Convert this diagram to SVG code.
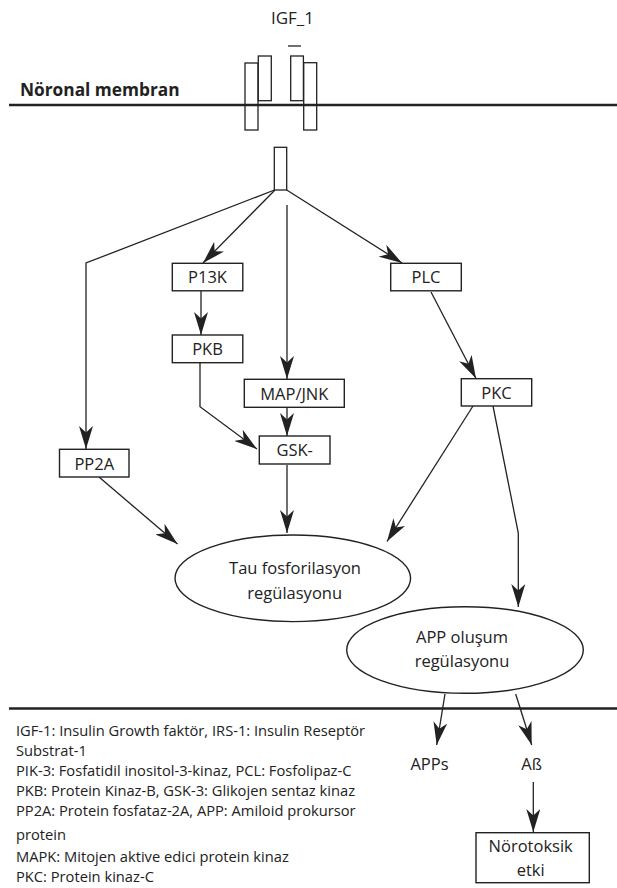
<svg xmlns="http://www.w3.org/2000/svg" width="617" height="888" viewBox="0 0 617 888">
<style>
text{font-family:"Open Sans","Noto Sans","DejaVu Sans",sans-serif;fill:#222}
.lbl{font-size:16.5px;text-anchor:middle}
.leg{font-size:14.7px}
.box{fill:#fff;stroke:#222;stroke-width:1.4}
.rec{fill:#fff;stroke:#222;stroke-width:1.3}
.mem{stroke:#222;stroke-width:2.6}
.con{fill:none;stroke:#222;stroke-width:1.3}
.arr{marker-end:url(#ah)}
</style>
<defs>
<marker id="ah" markerUnits="userSpaceOnUse" markerWidth="23" markerHeight="14" refX="23" refY="7" orient="auto" viewBox="0 0 23 14">
<path d="M0,0 L23,7 L0,14 L6.5,7 z" fill="#222"/>
</marker>
</defs>
<line class="mem" x1="9" y1="105" x2="617" y2="105"/>
<line class="mem" x1="9" y1="708.5" x2="617" y2="708.5"/>
<text x="20" y="96" style="font-size:17.3px;font-weight:bold">Nöronal membran</text>
<g id="igf1">
<text class="lbl" x="292.5" y="24" style="font-size:17px">IGF_1</text>
<line x1="288" y1="46" x2="301" y2="46" stroke="#222" stroke-width="1.3"/>
</g>
<g id="receptor">
<rect class="rec" x="245" y="63" width="13" height="67" fill-opacity="0"/>
<rect class="rec" x="258.3" y="56" width="13" height="44.7"/>
<rect class="rec" x="290.7" y="56" width="12.7" height="44.7"/>
<rect class="rec" x="303.7" y="62.7" width="13" height="67.3" fill-opacity="0"/>
<rect class="rec" x="274.3" y="147.3" width="12.4" height="42.7"/>
</g>
<g id="connectors">
<polyline class="con arr" points="274.5,190 86,263 86,449"/>
<line class="con arr" x1="275" y1="190" x2="203" y2="263"/>
<line class="con arr" x1="287" y1="205" x2="287" y2="379"/>
<line class="con arr" x1="286.7" y1="190" x2="402" y2="263"/>
<line class="con arr" x1="201" y1="291" x2="201" y2="335"/>
<polyline class="con arr" points="200,363 200,406.7 257,449"/>
<line class="con arr" x1="287" y1="407.5" x2="287" y2="436"/>
<line class="con arr" x1="431" y1="292" x2="476" y2="378.5"/>
<line class="con arr" x1="473" y1="406" x2="387" y2="541.5"/>
<polyline class="con arr" points="493,406 518.3,533 518.3,607"/>
<line class="con arr" x1="287" y1="465" x2="287" y2="533"/>
<line class="con arr" x1="99" y1="477" x2="177.5" y2="544"/>
<line class="con arr" x1="445" y1="694" x2="436.7" y2="745"/>
<line class="con arr" x1="515.7" y1="694" x2="531.7" y2="745"/>
<line class="con arr" x1="533.3" y1="782" x2="533.3" y2="832"/>
</g>
<g id="p13k"><rect class="box" x="172.3" y="263.3" width="70.5" height="27.5"/><text class="lbl" x="207.5" y="283">P13K</text></g>
<g id="pkb"><rect class="box" x="172.3" y="335" width="70.5" height="27.7"/><text class="lbl" x="207.5" y="355">PKB</text></g>
<g id="mapjnk"><rect class="box" x="244.3" y="379.3" width="100" height="28"/><text class="lbl" x="294.3" y="399.5">MAP/JNK</text></g>
<g id="gsk"><rect class="box" x="259.3" y="436" width="70.7" height="28"/><text class="lbl" x="294.7" y="456">GSK-</text></g>
<g id="plc"><rect class="box" x="390.7" y="263.3" width="70.6" height="27.5"/><text class="lbl" x="426" y="283">PLC</text></g>
<g id="pkc"><rect class="box" x="461.3" y="378.7" width="70.4" height="27.3"/><text class="lbl" x="496.5" y="398.5">PKC</text></g>
<g id="pp2a"><rect class="box" x="59.5" y="449.3" width="69.5" height="27.7"/><text class="lbl" x="94.3" y="469.5">PP2A</text></g>
<g id="tau"><ellipse class="box" cx="292.8" cy="578.3" rx="117.8" ry="43.3"/><text class="lbl" x="295" y="574.3">Tau fosforilasyon</text><text class="lbl" x="294.7" y="598.7">regülasyonu</text></g>
<g id="app"><ellipse class="box" cx="465" cy="650" rx="118.3" ry="43.3"/><text class="lbl" x="462" y="642.5">APP oluşum</text><text class="lbl" x="462" y="666.8">regülasyonu</text></g>
<g id="apps"><text class="lbl" x="429.5" y="770">APPs</text></g>
<g id="abeta"><text class="lbl" x="531.7" y="770">Aß</text></g>
<g id="norotoksik"><rect class="box" x="476" y="832.7" width="113.3" height="50"/><text class="lbl" x="530.7" y="851.7">Nörotoksik</text><text class="lbl" x="530.7" y="876">etki</text></g>
<g id="legend">
<text class="leg" x="16" y="736">IGF-1: Insulin Growth faktör, IRS-1: Insulin Reseptör</text>
<text class="leg" x="16" y="756">Substrat-1</text>
<text class="leg" x="16" y="776">PIK-3: Fosfatidil inositol-3-kinaz, PCL: Fosfolipaz-C</text>
<text class="leg" x="16" y="796">PKB: Protein Kinaz-B, GSK-3: Glikojen sentaz kinaz</text>
<text class="leg" x="16" y="816">PP2A: Protein fosfataz-2A, APP: Amiloid prokursor</text>
<text class="leg" x="16" y="840">protein</text>
<text class="leg" x="16" y="862">MAPK: Mitojen aktive edici protein kinaz</text>
<text class="leg" x="16" y="882">PKC: Protein kinaz-C</text>
</g>
</svg>
